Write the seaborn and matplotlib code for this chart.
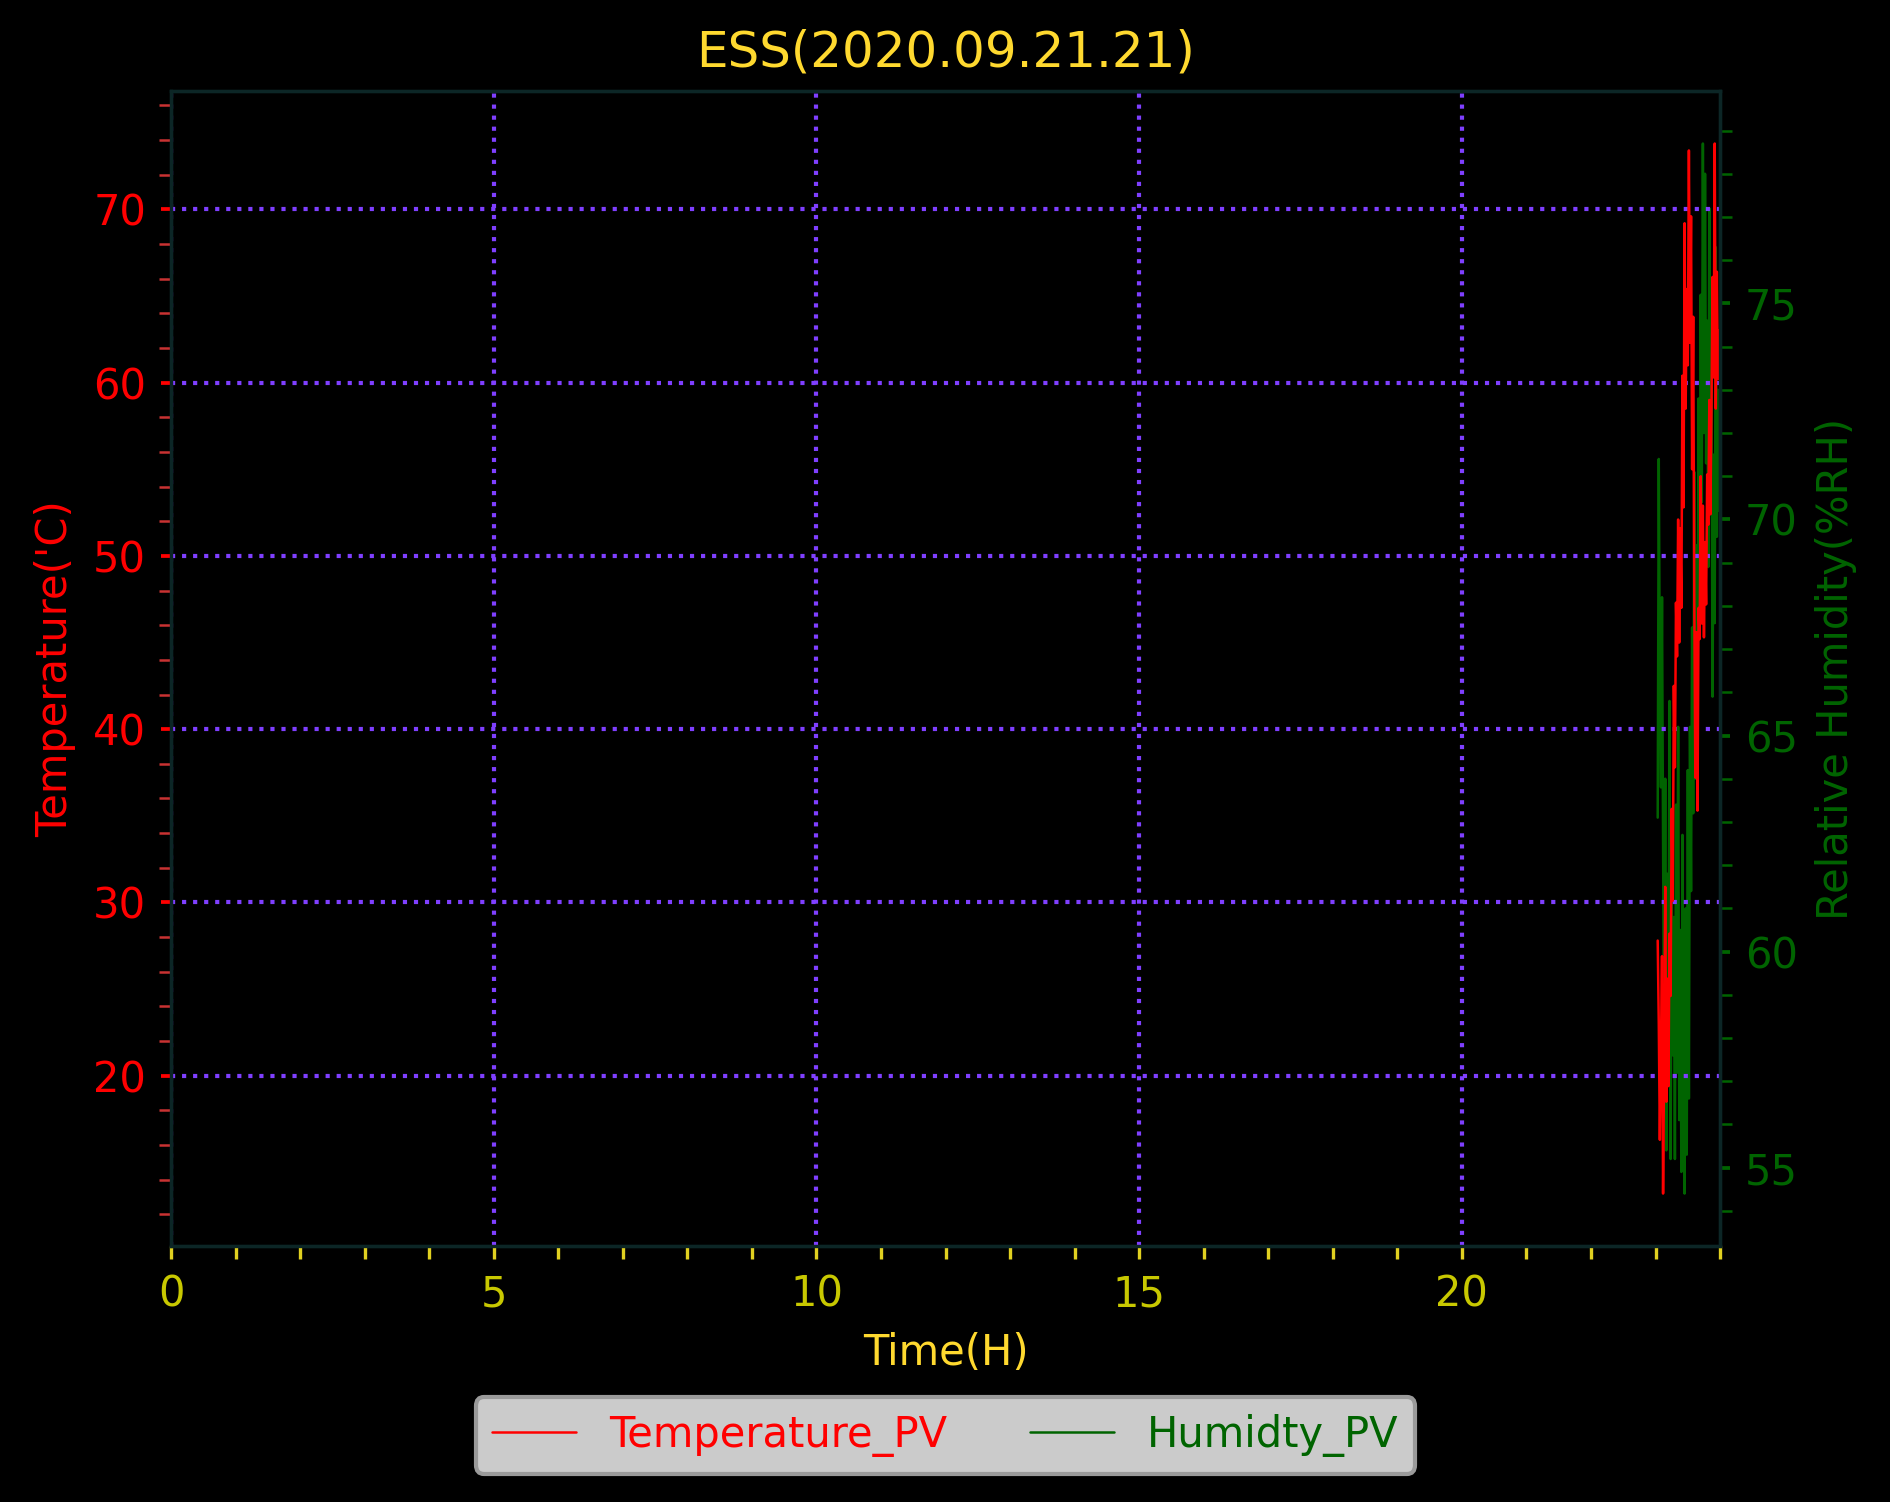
import numpy as np
import pandas as pd
import matplotlib
matplotlib.use('Agg')
import matplotlib.pyplot as plt
import seaborn as sns
from matplotlib.ticker import MultipleLocator
from matplotlib.lines import Line2D

sns.set_theme(style='ticks')
plt.rcParams['font.family'] = ['DejaVu Sans']
plt.rcParams['font.size'] = 10

# ---- data (one sample per minute after 23:00) ----
minutes = [2, 3, 4, 5, 6, 7, 8, 9, 10, 11, 12, 13, 14, 15, 16, 17, 18, 19, 20,
           21, 22, 23, 24, 25, 26, 27, 28, 29, 30, 31, 32, 33, 34, 35, 36, 37,
           38, 39, 40, 41, 42, 43, 44, 45, 46, 47, 48, 49, 50, 51, 52, 53, 54,
           55, 56, 57, 58, 59]

temperature = [27.8, 23.0, 16.3, 21.5, 26.9, 13.2, 20.8, 30.9, 18.5, 25.6,
               19.4, 28.2, 24.6, 35.4, 30.1, 42.5, 37.8, 47.3, 44.2, 52.1,
               45.0, 51.6, 47.0, 60.4, 52.8, 69.2, 58.5, 65.4, 61.0, 73.4,
               62.3, 69.6, 55.0, 63.8, 47.5, 37.2, 45.6, 35.3, 47.0, 45.2,
               54.6, 46.1, 52.9, 45.3, 50.8, 47.2, 54.7, 51.8, 59.0, 52.4,
               58.6, 66.1, 60.3, 73.8, 58.5, 66.4, 60.2, 63.0]

humidity = [63.1, 71.4, 66.3, 63.8, 68.2, 62.5, 57.3, 64.0, 55.4, 61.8,
            58.0, 65.8, 55.2, 62.0, 57.6, 60.8, 55.2, 63.4, 57.2, 65.2,
            56.1, 60.5, 54.9, 62.7, 56.6, 54.4, 61.0, 55.3, 64.2, 56.6,
            65.2, 61.4, 67.5, 63.2, 71.1, 64.0, 69.4, 66.0, 72.8, 68.5,
            75.2, 70.4, 78.7, 72.0, 78.0, 71.3, 74.6, 68.9, 77.2, 70.8,
            73.4, 65.9, 71.5, 67.6, 76.3, 69.6, 73.0, 70.2]

df = pd.DataFrame({'hour': [23 + m / 60 for m in minutes],
                   'temp': temperature, 'hum': humidity})

title_col = '#ffd92f'
xtick_col = '#c8c800'
grid_col = '#7f3fff'
hum_col = '#006400'
spine_col = '#0c2626'

fig = plt.figure(figsize=(6.3, 1502 / 300), dpi=300, facecolor='black')
ax = fig.add_axes([0.0905, 0.1704, 0.8196, 0.7690])
ax2 = ax.twinx()
ax2.set_facecolor('black')
ax.set_zorder(2)
ax2.set_zorder(1)
ax.patch.set_visible(False)

sns.lineplot(data=df, x='hour', y='hum', ax=ax2, color=hum_col, lw=0.6,
             estimator=None, sort=False)
sns.lineplot(data=df, x='hour', y='temp', ax=ax, color='red', lw=0.6,
             estimator=None, sort=False)

ax.set_xlim(0, 24)
ax.xaxis.set_major_locator(MultipleLocator(5))
ax.xaxis.set_minor_locator(MultipleLocator(1))
ax.yaxis.set_major_locator(MultipleLocator(10))
ax.yaxis.set_minor_locator(MultipleLocator(2))
ax2.yaxis.set_major_locator(MultipleLocator(5))
ax2.yaxis.set_minor_locator(MultipleLocator(1))

ax.tick_params(axis='x', which='both', bottom=True, color='#e0d020',
               labelcolor=xtick_col, length=3, width=0.8, labelsize=10)
ax.tick_params(axis='y', which='major', left=True, color='red',
               labelcolor='red', length=2.5, width=0.9, labelsize=10)
ax.tick_params(axis='y', which='minor', left=True, color='#c83232',
               length=2.8, width=0.6)
ax2.tick_params(axis='y', which='major', right=True, color=hum_col,
                labelcolor=hum_col, length=2.5, width=0.9, labelsize=10)
ax2.tick_params(axis='y', which='minor', right=True, color=hum_col,
                length=2.8, width=0.6)

ax.grid(True, which='major', axis='both', color=grid_col, linestyle=':',
        linewidth=1.0)

for a in (ax, ax2):
    for s in a.spines.values():
        s.set_color(spine_col)
        s.set_linewidth(0.8)

ax.set_title('ESS(2020.09.21.21)', color=title_col, fontsize=12)
ax.set_xlabel('Time(H)', color=title_col, fontsize=10)
ax.set_ylabel("Temperature('C)", color='red', fontsize=10)
ax2.set_ylabel('Relative Humidity(%RH)', color=hum_col, fontsize=10)

handles = [Line2D([], [], color='red', lw=0.6),
           Line2D([], [], color=hum_col, lw=0.6)]
leg = ax.legend(handles, ['Temperature_PV', 'Humidty_PV'], loc='center',
                bbox_to_anchor=(0.5, -0.164), ncol=2, frameon=True,
                facecolor='#cbcbcb', edgecolor='#9a9a9a', framealpha=1,
                fontsize=10, columnspacing=2.0)
for txt, c in zip(leg.get_texts(), ['red', hum_col]):
    txt.set_color(c)

fig.savefig('out.png', dpi=300, facecolor='black')
